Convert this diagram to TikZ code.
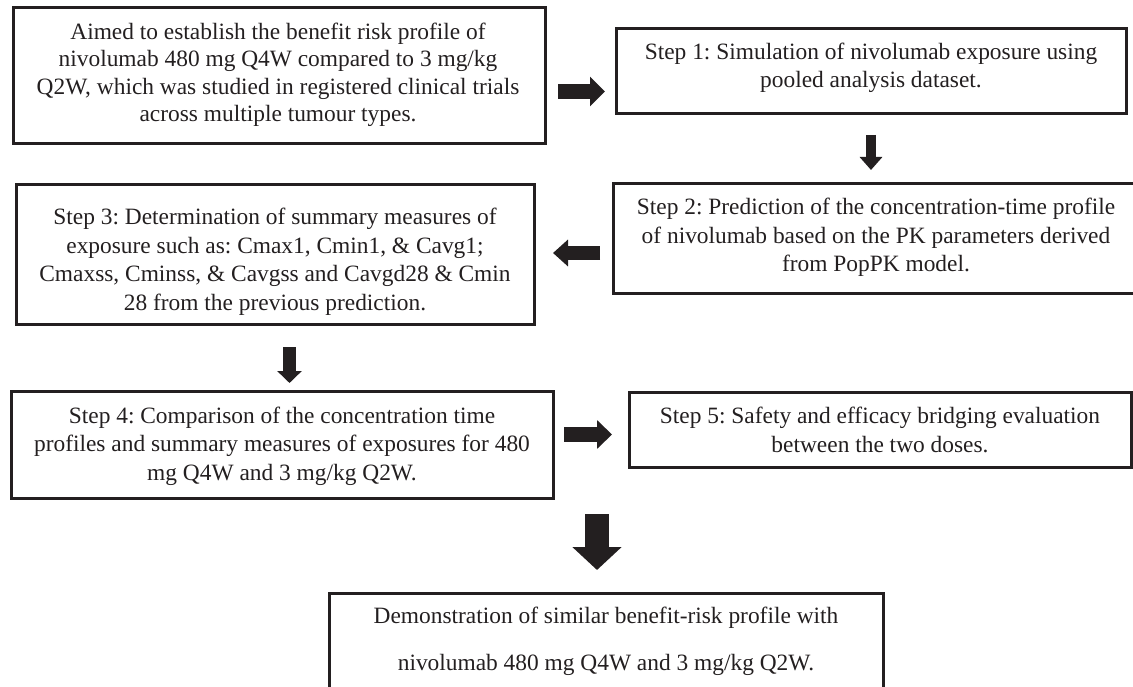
\documentclass[tikz,border=0pt]{standalone}
\usepackage{fontspec}
\setmainfont{Liberation Serif}
\usetikzlibrary{arrows.meta}
\definecolor{ink}{HTML}{231F20}
\frenchspacing
\tikzset{
  box/.style={draw=ink, line width=3pt, rectangle, inner sep=0pt, outer sep=0pt, anchor=north west},
  txt/.style={align=center, inner sep=0pt, text=ink, font=\fontsize{23.4pt}{28.5pt}\selectfont},
  fat/.style={draw=ink, line cap=butt},
}
\begin{document}
\begin{tikzpicture}[x=1pt,y=-1pt]
\useasboundingbox (0,0) rectangle (1133,687);
\clip (0,0) rectangle (1133,687);
% boxes
\node[box, minimum width=532pt, minimum height=136pt] (A)  at (13,8) {};
\node[box, minimum width=510pt, minimum height=85pt]  (S1) at (616,29) {};
\node[box, minimum width=540pt, minimum height=109pt] (S2) at (613,184) {};
\node[box, minimum width=518pt, minimum height=139pt] (S3) at (16,185) {};
\node[box, minimum width=542pt, minimum height=107pt] (S4) at (11,391) {};
\node[box, minimum width=502pt, minimum height=75pt]  (S5) at (629,392) {};
\node[box, minimum width=554pt, minimum height=120pt] (F)  at (329,593) {};
% texts
\node[txt, font=\fontsize{23.4pt}{27.5pt}\selectfont] (At) at (278,75) {Aimed to establish the benefit risk profile of\\nivolumab 480 mg Q4W compared to 3 mg/kg\\Q2W, which was studied in registered clinical trials\\across multiple tumour types.};
\node[txt] (S1t) at (871,68) {Step 1: Simulation of nivolumab exposure using\\pooled analysis dataset.};
\node[txt] (S2t) at (876,237.5) {Step 2: Prediction of the concentration-time profile\\of nivolumab based on the PK parameters derived\\from PopPK model.};
\node[txt] (S3t) at (275,262) {Step 3: Determination of summary measures of\\exposure such as: Cmax1, Cmin1, \& Cavg1;\\Cmaxss, Cminss, \& Cavgss and Cavgd28 \& Cmin\\28 from the previous prediction.};
\node[txt] (S4t) at (282,446) {Step 4: Comparison of the concentration time\\profiles and summary measures of exposures for 480\\mg Q4W and 3 mg/kg Q2W.};
\node[txt] (S5t) at (880,430) {Step 5: Safety and efficacy bridging evaluation\\between the two doses.};
\node[txt, font=\fontsize{23.4pt}{47pt}\selectfont] (Ft) at (606,641.5) {Demonstration of similar benefit-risk profile with\\nivolumab 480 mg Q4W and 3 mg/kg Q2W.};
% arrows
\draw[fat, line width=15pt, -{Triangle[length=15pt,width=29pt]}, shorten <=13pt, shorten >=11pt]
  (A.east |- 0,91.5) -- (S1.west |- 0,91.5);
\draw[fat, line width=10pt, -{Triangle[length=13pt,width=22pt]}, shorten <=21pt, shorten >=14pt]
  (S1.south) -- (S1.south |- S2.north);
\draw[fat, line width=14pt, -{Triangle[length=15pt,width=26pt]}, shorten <=13pt, shorten >=19pt]
  (S2.west |- 0,253) -- (S3.east |- 0,253);
\draw[fat, line width=13pt, -{Triangle[length=12pt,width=24pt]}, shorten <=23pt, shorten >=8pt]
  (S3.south -| 289.5,0) -- (S4.north -| 289.5,0);
\draw[fat, line width=15pt, -{Triangle[length=15pt,width=28pt]}, shorten <=11pt, shorten >=17pt]
  (S4.east |- 0,434.5) -- (S5.west |- 0,434.5);
\coordinate (m) at (597,514);
\draw[fat, line width=24pt, -{Triangle[length=23pt,width=48pt]}, shorten >=23pt]
  (m) -- (F.north -| m);
\end{tikzpicture}
\end{document}
